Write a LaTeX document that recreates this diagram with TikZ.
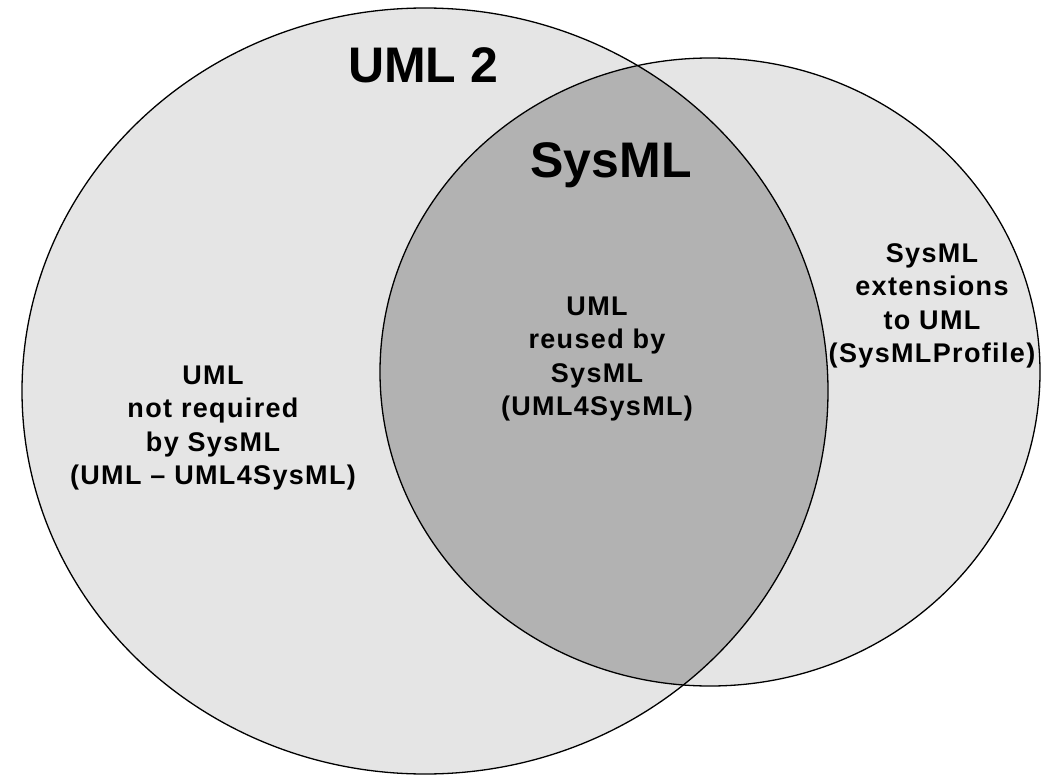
\documentclass[tikz,border=0pt]{standalone}
\usepackage{fontspec}
\setmainfont{Liberation Sans}
\newfontfamily\partfont{Liberation Sans}[LetterSpace=5.0]
\usepackage{tikz}

\begin{document}
\begin{tikzpicture}[x=1pt,y=-1pt]
\tikzstyle{every node}+=[inner sep=0pt, align=center]
\tikzstyle{setname}=[font=\bfseries\fontsize{50}{60}\selectfont]
\tikzstyle{setpart}=[font=\partfont\bfseries\fontsize{27}{33.5}\selectfont]
\useasboundingbox (0,0) rectangle (1058,784);
% the two sets
\fill [black!10] (425,391) ellipse (403 and 383);
\fill [black!10] (710,372) ellipse (330 and 314);
\begin{scope}
\clip (425,391) ellipse (403 and 383);
\fill [black!30] (710,372) ellipse (330 and 314);
\end{scope}
\draw [black, line width=1.3pt] (425,391) ellipse (403 and 383);
\draw [black, line width=1.3pt] (710,372) ellipse (330 and 314);
% set names
\node [setname, anchor=base] (uml) at (423,83) {UML 2};
\node [setname, anchor=base] (sysml) at (611,177) {SysML};
% parts
\node [setpart] (notreq) at (213,428) {UML\\not required\\by SysML\\(UML – UML4SysML)};
\node [setpart] (reused) at (597,359) {UML\\reused by\\SysML\\(UML4SysML)};
\node [setpart] (ext) at (932,306) {SysML\\extensions\\to UML\\(SysMLProfile)};
\end{tikzpicture}
\end{document}
